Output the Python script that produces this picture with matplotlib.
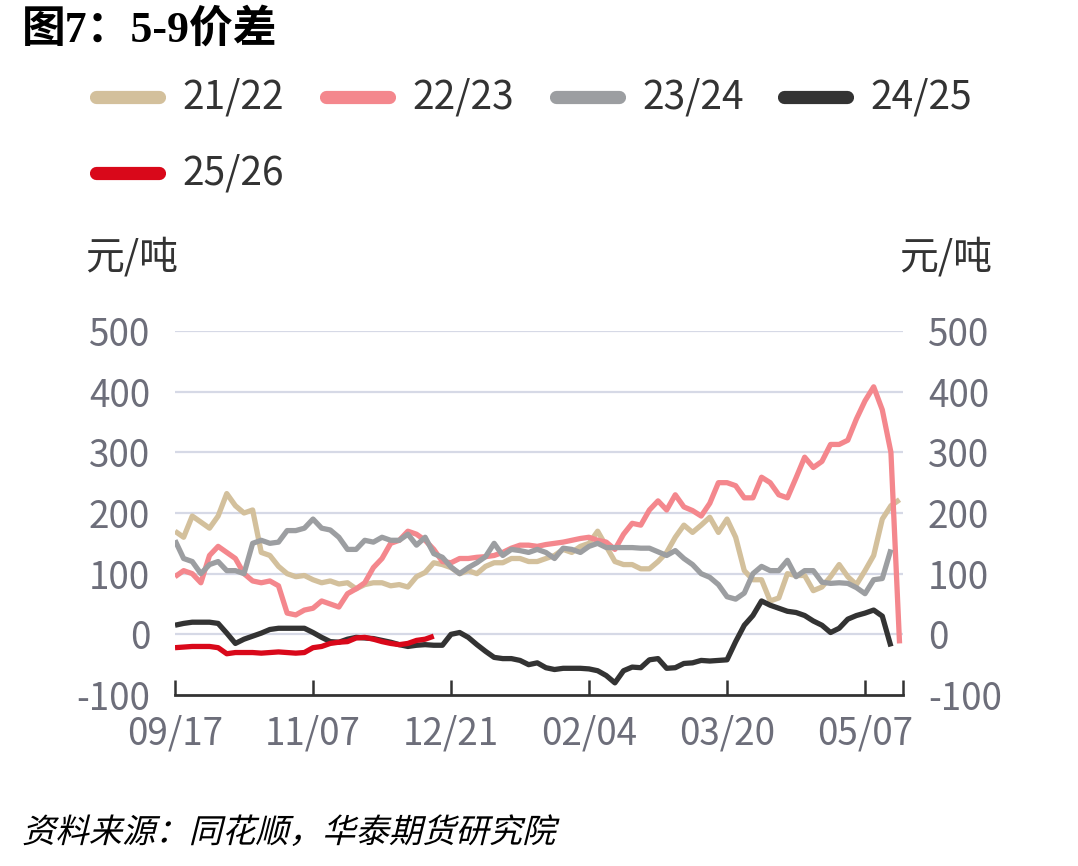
import numpy as np
import matplotlib
matplotlib.use("Agg")
import matplotlib.pyplot as plt
from matplotlib.lines import Line2D
from matplotlib import patheffects
from matplotlib.transforms import Affine2D

plt.rcParams['font.family'] = ['Noto Sans CJK SC', 'DejaVu Sans']
plt.rcParams['axes.unicode_minus'] = False

# ---------------- data ----------------
series_names = ["21/22", "22/23", "23/24", "24/25", "25/26"]
series_colors = ["#d3c09c", "#f4878d", "#9c9ea1", "#333333", "#d9081a"]

tick_labels = ["09/17", "11/07", "12/21", "02/04", "03/20", "05/07"]
tick_positions = [0, 16, 32, 48, 64, 80]
y_ticks = [-100, 0, 100, 200, 300, 400, 500]
y_tick_labels = ["-100", "0", "100", "200", "300", "400", "500"]

v_21_22 = [170, 160, 195, 185, 175, 195, 232, 212, 200, 205,
           135, 130, 112, 100, 95, 97, 90, 85, 88, 83,
           85, 75, 82, 85, 85, 80, 82, 78, 95, 102,
           118, 115, 110, 100, 105, 100, 112, 118, 118, 125,
           125, 120, 120, 125, 130, 140, 135, 145, 150, 170,
           145, 120, 115, 115, 108, 108, 120, 135, 160, 180,
           168, 180, 193, 168, 190, 160, 105, 90, 90, 55,
           60, 100, 97, 97, 72, 78, 95, 115, 95, 82,
           105, 130, 190, 212, 222]

v_22_23 = [95, 105, 100, 85, 130, 145, 135, 125, 100, 88,
           85, 88, 80, 35, 32, 40, 43, 55, 50, 45,
           67, 75, 85, 110, 125, 150, 155, 170, 165, 155,
           140, 120, 118, 125, 125, 127, 128, 130, 135, 142,
           147, 147, 145, 148, 150, 152, 155, 158, 160, 155,
           152, 140, 165, 183, 180, 205, 220, 205, 230, 210,
           204, 195, 216, 250, 250, 245, 225, 225, 259, 250,
           230, 225, 258, 292, 275, 285, 313, 313, 320, 355,
           385, 408, 370, 300, -15]

v_23_24 = [155, 125, 120, 100, 115, 120, 105, 105, 100, 150,
           155, 150, 152, 171, 171, 175, 190, 175, 172, 160,
           140, 140, 155, 152, 160, 155, 155, 165, 147, 160,
           133, 127, 111, 100, 110, 118, 128, 150, 130, 140,
           138, 135, 140, 135, 125, 142, 140, 135, 145, 150,
           143, 143, 143, 143, 142, 142, 136, 130, 138, 125,
           115, 100, 94, 82, 62, 58, 68, 100, 112, 105,
           105, 122, 95, 105, 105, 86, 84, 85, 84, 77,
           67, 90, 92, 140, np.nan]

v_24_25 = [15, 18, 20, 20, 20, 18, 2, -15, -8, -3,
           2, 8, 10, 10, 10, 10, 3, -5, -12, -13,
           -8, -5, -6, -7, -10, -13, -17, -20, -18, -17,
           -18, -18, 0, 3, -5, -17, -28, -38, -40, -40,
           -43, -50, -47, -55, -58, -56, -56, -56, -57, -60,
           -68, -80, -60, -54, -55, -42, -40, -56, -55, -48,
           -47, -43, -44, -43, -42, -12, 15, 31, 55, 48,
           43, 38, 36, 31, 22, 15, 3, 10, 25, 31,
           35, 40, 30, -20, np.nan]

v_25_26 = [-22, -21, -20, -20, -20, -22, -32, -30, -30, -30,
           -31, -30, -29, -30, -31, -30, -22, -20, -15, -13,
           -12, -6, -5, -8, -12, -15, -17, -15, -10, -8,
           -3]

all_values = [v_21_22, v_22_23, v_23_24, v_24_25, v_25_26]

# ---------------- figure ----------------
W, H = 1078, 866
fig = plt.figure(figsize=(W / 100, H / 100), dpi=100)
ax = fig.add_axes([175 / W, (H - 695) / H, 728 / W, 364 / H])

tick_color = "#6d6e7a"
text_color = "#333333"

for name, vals, col in zip(series_names, all_values, series_colors):
    x = np.arange(len(vals))
    ax.plot(x, vals, color=col, lw=3.8, solid_joinstyle='round',
            solid_capstyle='butt', zorder=3)

ax.set_xlim(0, 84.4)
ax.set_ylim(-100, 500)

for s in ["top", "left", "right"]:
    ax.spines[s].set_visible(False)
ax.spines["bottom"].set_color("#333333")
ax.spines["bottom"].set_linewidth(2.0)
ax.spines["bottom"].set_zorder(4)

for yv in y_ticks[1:]:
    ax.axhline(yv, color="#d6d9e6", lw=1.6, zorder=1)

ax.set_yticks(y_ticks)
ax.set_yticklabels(y_tick_labels)
ax.tick_params(axis='y', length=0, labelsize=26.5, labelcolor=tick_color,
               pad=18, labelright=True, right=False, left=False)

ax.set_xticks(tick_positions)
ax.set_xticklabels(tick_labels)
ax.set_xticks([84.4], minor=True)
ax.tick_params(axis='x', which='both', direction='in', length=11, width=1.8,
               color="#333333", labelsize=26.5, labelcolor=tick_color, pad=14)

# unit labels
fig.text(85 / W, 1 - 258 / H, "元/吨", fontsize=28, color=text_color,
         ha='left', va='center')
fig.text(992 / W, 1 - 258 / H, "元/吨", fontsize=28, color=text_color,
         ha='right', va='center')

# legend (manual)
legend_pos = [(96, 97), (326, 97), (556, 97), (784, 97), (96, 173)]
for (px, py), name, col in zip(legend_pos, series_names, series_colors):
    fig.add_artist(Line2D([px / W, (px + 63) / W], [1 - py / H, 1 - py / H],
                          transform=fig.transFigure, color=col, lw=9.5,
                          solid_capstyle='round'))
    fig.text((px + 86) / W, 1 - py / H, name, fontsize=28, color=text_color,
             ha='left', va='center')

# title
fig.text(22 / W, 1 - 30 / H, "图7：5-9价差", fontsize=31.5, fontweight='bold',
         family=['Liberation Serif', 'Noto Sans CJK SC'], color="#000000",
         ha='left', va='center')


class Italic(patheffects.AbstractPathEffect):
    def draw_path(self, renderer, gc, tpath, affine, rgbFace=None):
        renderer.draw_path(gc, tpath, Affine2D().skew_deg(14, 0) + affine, rgbFace)


fig.text(22 / W, 1 - 833 / H, "资料来源：同花顺，华泰期货研究院", fontsize=24,
         color="#000000", ha='left', va='center',
         path_effects=[Italic()])

fig.savefig("out.png", dpi=100)
